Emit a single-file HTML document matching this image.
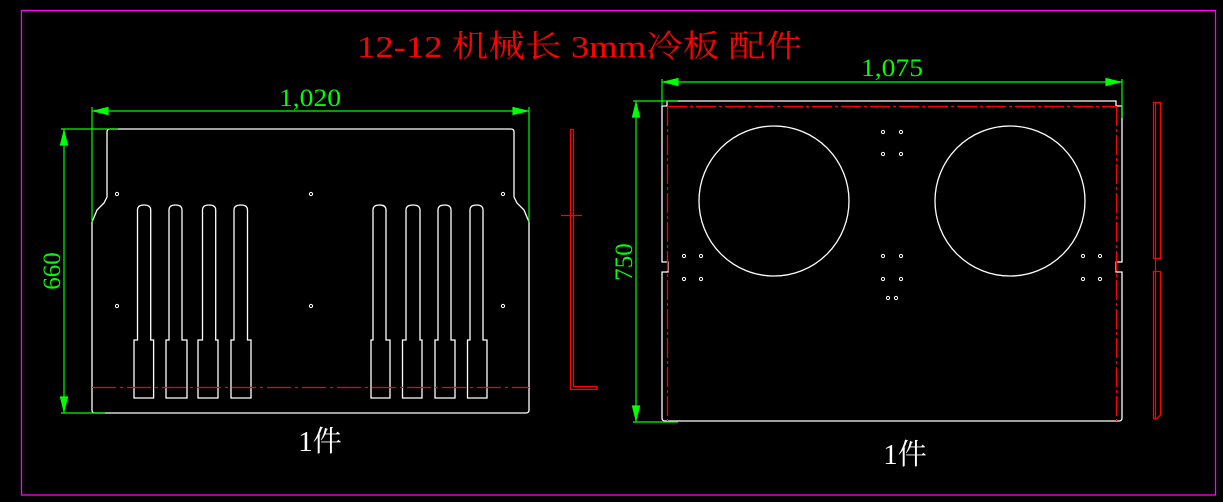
<!DOCTYPE html>
<html><head><meta charset="utf-8"><style>
html,body{margin:0;padding:0;background:#000;}
svg{display:block}
</style></head><body>
<svg width="1223" height="502" viewBox="0 0 1223 502" xmlns="http://www.w3.org/2000/svg">
<rect width="1223" height="502" fill="#000"/>
<rect x="21.5" y="10.5" width="1194" height="484.5" fill="none" stroke="#ff00ff" stroke-width="1.3"/>
<text x="357" y="57" fill="#ff0000" font-family="Liberation Serif, 'Noto Serif CJK SC', serif" font-size="31" textLength="445" lengthAdjust="spacingAndGlyphs">12-12 机械长 3mm冷板 配件</text>

<!-- LEFT PLATE -->
<g fill="none" stroke="#fff" stroke-width="1.3">
<path d="M107,197 L107,132 Q107,129 110,129 L511,129 Q514,129 514,132 L514,197 L517,203 L524,210 L529,222 L529,410 Q529,413 526,413 L95,413 Q92,413 92,410 L92,222 L97,210 L104,203 Z"/>
<path d="M137.5,340 L137.5,210 Q137.5,205 144,205 Q150.7,205 150.7,210 L150.7,340 L153.6,340 L153.6,398 L134,398 L134,340 Z"/>
<path d="M169,340 L169,210 Q169,205 175.5,205 Q182,205 182,210 L182,340 L187,340 L187,398 L166,398 L166,340 Z"/>
<path d="M202.5,340 L202.5,210 Q202.5,205 209,205 Q215.7,205 215.7,210 L215.7,340 L218,340 L218,398 L198,398 L198,340 Z"/>
<path d="M234,340 L234,210 Q234,205 241,205 Q247.5,205 247.5,210 L247.5,340 L251,340 L251,398 L231,398 L231,340 Z"/>
<path d="M373,340 L373,210 Q373,205 379.5,205 Q386,205 386,210 L386,340 L390,340 L390,398 L371,398 L371,340 Z"/>
<path d="M406,340 L406,210 Q406,205 413,205 Q420,205 420,210 L420,340 L422,340 L422,398 L402.5,398 L402.5,340 Z"/>
<path d="M438,340 L438,210 Q438,205 444.5,205 Q451,205 451,210 L451,340 L455,340 L455,398 L435,398 L435,340 Z"/>
<path d="M470,340 L470,210 Q470,205 476.5,205 Q483,205 483,210 L483,340 L487,340 L487,398 L467.5,398 L467.5,340 Z"/>
</g>
<g fill="none" stroke="#fff" stroke-width="1">
<circle cx="117" cy="194" r="1.6"/><circle cx="311" cy="194" r="1.6"/><circle cx="503" cy="194" r="1.6"/>
<circle cx="117" cy="306" r="1.6"/><circle cx="311" cy="306" r="1.6"/><circle cx="503" cy="306" r="1.6"/>
</g>
<line x1="92" y1="387.5" x2="529" y2="387.5" stroke="#ff0000" stroke-width="1.3" stroke-dasharray="24,4,3,4"/>
<!-- red side view -->
<path d="M570.5,129.5 L573.5,129.5 L573.5,386.5 L597,386.5 L597,389.5 L570.5,389.5 Z" fill="none" stroke="#ff0000" stroke-width="1.3"/>
<line x1="561" y1="215.5" x2="582" y2="215.5" stroke="#ff0000" stroke-width="1.2"/>
<!-- left dims -->
<g stroke="#00ff00" stroke-width="1.2" fill="#00ff00">
<line x1="92" y1="111" x2="529" y2="111"/>
<line x1="92" y1="107" x2="92" y2="222"/>
<line x1="529" y1="107" x2="529" y2="222"/>
<path d="M94,111 L108,107.5 L108,114.5 Z"/>
<path d="M527,111 L513,107.5 L513,114.5 Z"/>
<line x1="64" y1="129" x2="64" y2="413"/>
<line x1="61" y1="129" x2="118" y2="129"/>
<line x1="61" y1="413" x2="105" y2="413"/>
<path d="M64,131 L60.5,145 L67.5,145 Z"/>
<path d="M64,411 L60.5,397 L67.5,397 Z"/>
</g>
<text x="279" y="106" fill="#00ff00" font-family="Liberation Serif, serif" font-size="25" textLength="62" lengthAdjust="spacingAndGlyphs">1,020</text>
<text transform="translate(60,271) rotate(-90)" fill="#00ff00" font-family="Liberation Serif, serif" font-size="25" text-anchor="middle">660</text>
<text x="320" y="451" fill="#fff" font-family="Liberation Serif, 'Noto Serif CJK SC', serif" font-size="29" text-anchor="middle">1件</text>

<!-- RIGHT PLATE -->
<g fill="none" stroke="#fff" stroke-width="1.3">
<path d="M667,106 L667,101 L1116,101 L1116,106 L1122,106 L1122,262 L1116,262 L1116,272 L1122,272 L1122,418 Q1122,421 1119,421 L665,421 Q662,421 662,418 L662,272 L668,272 L668,262 L662,262 L662,106 Z"/>
<circle cx="774" cy="201" r="75"/>
<circle cx="1010" cy="201" r="75"/>
</g>
<g fill="none" stroke="#ff0000" stroke-width="1.3" stroke-dasharray="20,3,3,3">
<line x1="667" y1="106.5" x2="1116" y2="106.5"/>
<line x1="667.5" y1="106" x2="667.5" y2="421"/>
<line x1="1116.5" y1="106" x2="1116.5" y2="421"/>
</g>
<g fill="none" stroke="#fff" stroke-width="1">
<circle cx="883" cy="132" r="1.6"/><circle cx="901" cy="132" r="1.6"/>
<circle cx="883" cy="154" r="1.6"/><circle cx="901" cy="154" r="1.6"/>
<circle cx="883" cy="256" r="1.6"/><circle cx="901" cy="256" r="1.6"/>
<circle cx="883" cy="279" r="1.6"/><circle cx="901" cy="279" r="1.6"/>
<circle cx="888" cy="298" r="1.6"/><circle cx="896" cy="298" r="1.6"/>
<circle cx="684" cy="256" r="1.6"/><circle cx="701" cy="256" r="1.6"/>
<circle cx="684" cy="279" r="1.6"/><circle cx="701" cy="279" r="1.6"/>
<circle cx="1083" cy="256" r="1.6"/><circle cx="1100" cy="256" r="1.6"/>
<circle cx="1083" cy="279" r="1.6"/><circle cx="1100" cy="279" r="1.6"/>
</g>
<path d="M1153.5,102.5 L1160.5,102.5 L1160.5,258.5 L1153.5,258.5 Z M1153.5,271.5 L1160.5,271.5 L1160.5,415 L1157,418.5 L1153.5,418.5 Z" fill="none" stroke="#ff0000" stroke-width="1.3"/>
<line x1="1155.5" y1="102" x2="1155.5" y2="418" stroke="#ff0000" stroke-width="1.2"/>
<g stroke="#00ff00" stroke-width="1.2" fill="#00ff00">
<line x1="662" y1="82" x2="1122" y2="82"/>
<line x1="662" y1="79" x2="662" y2="106"/>
<line x1="1122" y1="79" x2="1122" y2="118"/>
<path d="M664,82 L678,78.5 L678,85.5 Z"/>
<path d="M1120,82 L1106,78.5 L1106,85.5 Z"/>
<line x1="636" y1="101" x2="636" y2="422"/>
<line x1="633" y1="101" x2="678" y2="101"/>
<line x1="633" y1="422" x2="678" y2="422"/>
<path d="M636,103 L632.5,117 L639.5,117 Z"/>
<path d="M636,420 L632.5,406 L639.5,406 Z"/>
</g>
<text x="861" y="76" fill="#00ff00" font-family="Liberation Serif, serif" font-size="25" textLength="62" lengthAdjust="spacingAndGlyphs">1,075</text>
<text transform="translate(632,262) rotate(-90)" fill="#00ff00" font-family="Liberation Serif, serif" font-size="25" text-anchor="middle">750</text>
<text x="905" y="464" fill="#fff" font-family="Liberation Serif, 'Noto Serif CJK SC', serif" font-size="29" text-anchor="middle">1件</text>
</svg>
</body></html>
